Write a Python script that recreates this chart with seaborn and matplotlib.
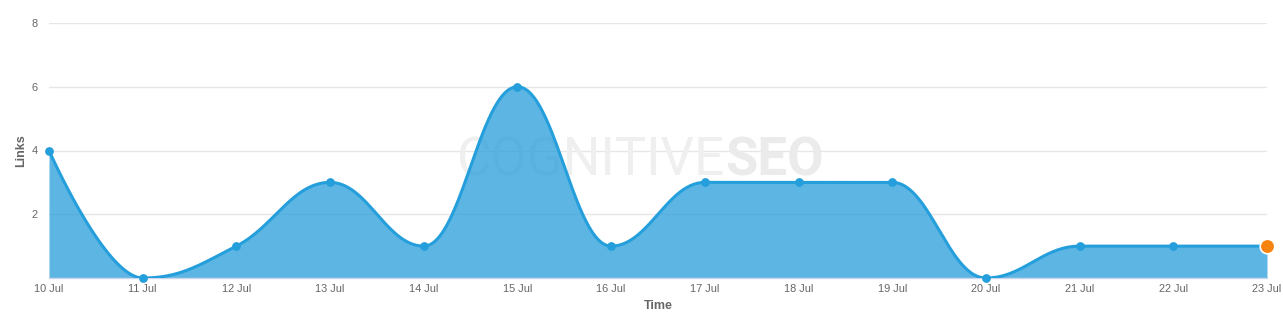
import numpy as np
import pandas as pd
import matplotlib
matplotlib.use("Agg")
import matplotlib.pyplot as plt
import seaborn as sns

dates = ["10 Jul", "11 Jul", "12 Jul", "13 Jul", "14 Jul", "15 Jul", "16 Jul",
         "17 Jul", "18 Jul", "19 Jul", "20 Jul", "21 Jul", "22 Jul", "23 Jul"]
links = [4, 0, 1, 3, 1, 6, 1, 3, 3, 3, 0, 1, 1, 1]
y_ticks = [2, 4, 6, 8]

LINE = "#259fdb"
FILL = "#279ddb"
ORANGE = "#f7830f"


def spline_controls(xs, ys, smoothing=1.5):
    """Highcharts-style spline control points."""
    n = len(xs)
    denom = smoothing + 1
    left = [None] * n
    right = [None] * n
    for i in range(1, n - 1):
        px, py = xs[i], ys[i]
        lx, ly = xs[i - 1], ys[i - 1]
        nx, ny = xs[i + 1], ys[i + 1]
        lcx = (smoothing * px + lx) / denom
        lcy = (smoothing * py + ly) / denom
        rcx = (smoothing * px + nx) / denom
        rcy = (smoothing * py + ny) / denom
        corr = 0.0
        if rcx != lcx:
            corr = (rcy - lcy) * (rcx - px) / (rcx - lcx) + py - rcy
        lcy += corr
        rcy += corr
        if lcy > ly and lcy > py:
            lcy = max(ly, py)
            rcy = 2 * py - lcy
        elif lcy < ly and lcy < py:
            lcy = min(ly, py)
            rcy = 2 * py - lcy
        if rcy > ny and rcy > py:
            rcy = max(ny, py)
            lcy = 2 * py - rcy
        elif rcy < ny and rcy < py:
            rcy = min(ny, py)
            lcy = 2 * py - rcy
        left[i] = (lcx, lcy)
        right[i] = (rcx, rcy)
    cx, cy = [xs[0]], [ys[0]]
    t = np.linspace(0, 1, 60)[1:]
    for i in range(1, n):
        p0 = np.array([xs[i - 1], ys[i - 1]], float)
        p1 = np.array(right[i - 1] if right[i - 1] else p0, float)
        p3 = np.array([xs[i], ys[i]], float)
        p2 = np.array(left[i] if left[i] else p3, float)
        pts = ((1 - t) ** 3)[:, None] * p0 + (3 * (1 - t) ** 2 * t)[:, None] * p1 \
            + (3 * (1 - t) * t ** 2)[:, None] * p2 + (t ** 3)[:, None] * p3
        cx.extend(pts[:, 0])
        cy.extend(pts[:, 1])
    return np.array(cx), np.array(cy)


sns.set_style("white")
plt.rcParams["font.family"] = ["Liberation Sans", "DejaVu Sans"]

fig = plt.figure(figsize=(12.83, 3.21), dpi=100)
ax = fig.add_axes([49 / 1283, 43 / 321, (1267 - 49) / 1283, (278 - 23) / 321])

xpos = np.arange(len(dates))
df = pd.DataFrame({"x": xpos, "Links": links, "date": dates})

# watermark (behind the semi-transparent area)
ax.text(0.555, 0.46, "COGNITIVE", transform=ax.transAxes, ha="right", va="center",
        fontsize=38, color="#efefef", fontweight="normal", zorder=1,
        family=["Roboto", "DejaVu Sans"])
ax.text(0.555, 0.46, "SEO", transform=ax.transAxes, ha="left", va="center",
        fontsize=38, color="#ebebeb", fontweight="bold", zorder=1,
        family=["Roboto", "DejaVu Sans"])

cx, cy = spline_controls(list(xpos), list(links))
ax.fill_between(cx, 0, cy, color=FILL, alpha=0.75, linewidth=0, zorder=2)
sns.lineplot(x=cx, y=cy, ax=ax, color=LINE, linewidth=2.2, zorder=3, sort=False)
sns.scatterplot(data=df.iloc[:-1], x="x", y="Links", ax=ax, color=LINE, s=40,
                linewidth=0, zorder=4, clip_on=False)
sns.scatterplot(data=df.iloc[-1:], x="x", y="Links", ax=ax, color=ORANGE, s=110,
                edgecolor="white", linewidth=1.2, zorder=5, clip_on=False)

ax.set_xlim(0, len(dates) - 1)
ax.set_ylim(0, 8)
ax.set_yticks(y_ticks)
ax.set_yticklabels([str(v) for v in y_ticks])
ax.set_xticks(xpos)
ax.set_xticklabels(dates)
ax.grid(axis="y", color="#e6e6e6", linewidth=1)
ax.set_axisbelow(True)
for s in ["top", "right", "left"]:
    ax.spines[s].set_visible(False)
ax.spines["bottom"].set_color("#ccd6eb")
ax.spines["bottom"].set_linewidth(1)
ax.tick_params(axis="x", length=3.6, color="#ccd6eb", width=1, pad=1,
               labelsize=7.9, labelcolor="#666666", direction="out")
ax.tick_params(axis="y", length=0, pad=8, labelsize=7.9, labelcolor="#666666")
ax.set_xlabel("Time", fontsize=9, color="#666666", fontweight="bold", labelpad=4)
ax.set_ylabel("Links", fontsize=9, color="#666666", fontweight="bold", labelpad=3)

fig.savefig("out.png", dpi=100)
